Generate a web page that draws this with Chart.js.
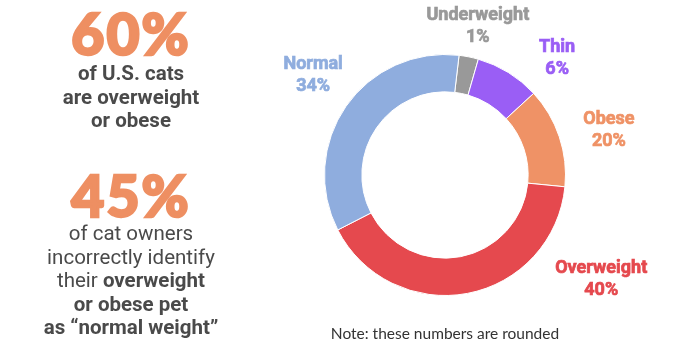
<!DOCTYPE html>
<html>
<head>
<meta charset="utf-8">
<script src="https://cdn.jsdelivr.net/npm/chart.js@4/dist/chart.umd.min.js"></script>
<style>
  html, body { margin: 0; padding: 0; background: #fff; }
  #wrap { position: relative; width: 680px; height: 351px; overflow: hidden; }
  #grafico { position: absolute; left: 0; top: 0; }
  .lado { position: absolute; left: 20px; width: 222px; text-align: center; color: #4a4a4a; font-family: "Roboto", sans-serif; }
  .grande { font-family: "Lato", sans-serif; font-weight: 900; color: #ee8f62; font-size: 57px; line-height: 60px; letter-spacing: 2px; -webkit-text-stroke: 2.5px #ee8f62; }
  .texto { font-size: 20.5px; line-height: 23.5px; }
  .b { font-weight: 700; }
  .nota { position: absolute; left: 295px; width: 300px; top: 324px; text-align: center; font-family: "Lato", sans-serif; font-weight: 400; font-size: 15.5px; color: #333; }
</style>
</head>
<body>
<div id="wrap">
  <canvas id="grafico" width="680" height="351"></canvas>
  <div class="lado" style="top:3px">
    <div class="grande">60%</div>
    <div class="texto b" style="margin-top:-1px">of U.S. cats<br>are overweight<br>or obese</div>
  </div>
  <div class="lado" style="top:165px">
    <div class="grande">45%</div>
    <div class="texto" style="margin-top:-3px">of cat owners<br>incorrectly identify<br>their <span class="b">overweight</span><br><span class="b">or obese pet</span><br><span class="b">as “normal weight”</span></div>
  </div>
  <div class="nota">Note: these numbers are rounded</div>
</div>
<script>
// categorías y valores (tamaño de cada arco)
const categorias = ["Underweight", "Thin", "Obese", "Overweight", "Normal"];
const arcos = [2.6, 8.7, 13.4, 40.9, 34.4];
// porcentajes que muestran las etiquetas
const etiquetas = ["1%", "6%", "20%", "40%", "34%"];
const colores = ["#999999", "#9a5ef5", "#ef9266", "#e5494e", "#8fadde"];

// posición de cada etiqueta: ángulo desde arriba (grados) y distancia relativa al radio
const posEtiquetas = [
  { ang: 12.5, dist: 1.26 },
  { ang: 44, dist: 1.34 },
  { ang: 74.7, dist: 1.41 },
  { ang: 123.8, dist: 1.56 },
  { ang: 307, dist: 1.37 }
];

const pluginEtiquetas = {
  id: 'etiquetas',
  afterDraw(chart) {
    const ctx = chart.ctx;
    const meta = chart.getDatasetMeta(0);
    const arc = meta.data[0];
    const cx = arc.x, cy = arc.y, r = arc.outerRadius;
    ctx.save();
    ctx.textAlign = 'center';
    ctx.textBaseline = 'middle';
    ctx.font = 'bold 18px Roboto, sans-serif';
    ctx.lineWidth = 0.7;
    categorias.forEach((cat, i) => {
      const p = posEtiquetas[i];
      const a = p.ang * Math.PI / 180;
      const x = cx + Math.sin(a) * r * p.dist;
      const y = cy - Math.cos(a) * r * p.dist;
      ctx.fillStyle = colores[i];
      ctx.strokeStyle = colores[i];
      ctx.fillText(cat, x, y - 11);
      ctx.strokeText(cat, x, y - 11);
      ctx.fillText(etiquetas[i], x, y + 11);
      ctx.strokeText(etiquetas[i], x, y + 11);
    });
    ctx.restore();
  }
};

new Chart(document.getElementById('grafico'), {
  type: 'doughnut',
  data: {
    labels: categorias,
    datasets: [{ data: arcos, backgroundColor: colores, borderColor: '#ffffff', borderWidth: 1 }]
  },
  options: {
    responsive: false,
    animation: false,
    rotation: 6.7,
    cutout: '69%',
    layout: { padding: { left: 323, right: 113, top: 54, bottom: 55 } },
    plugins: { legend: { display: false }, tooltip: { enabled: false } }
  },
  plugins: [pluginEtiquetas]
});
</script>
</body>
</html>
